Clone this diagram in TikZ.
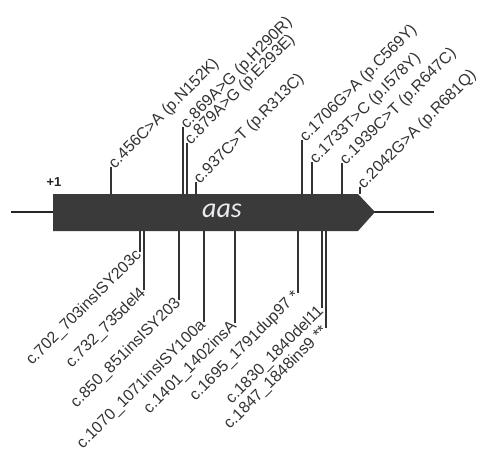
\documentclass[tikz,border=0pt]{standalone}
\usepackage{fontspec}
\setmainfont{Liberation Sans}
\newfontfamily\carl{Carlito}
\begin{document}
\begin{tikzpicture}[x=1pt,y=-1pt,
  stem/.style={draw=black!80,line width=1.4pt},
  toplab/.style={rotate=45,anchor=west,inner sep=1pt,text=black!80,font=\fontsize{16}{16}\selectfont},
  botlab/.style={rotate=45,anchor=east,inner sep=1pt,text=black!80,font=\fontsize{16}{16}\selectfont}]
\useasboundingbox (0,0) rectangle (477,453);
% axis line
\coordinate (L) at (11,212);
\coordinate (R) at (434,212);
\draw[line width=1.4pt,black!85] (L) -- (R);
% gene
\fill[fill={rgb,255:red,58;green,58;blue,58}] (53,194) -- (358,194) -- (375,212) -- (358,231) -- (53,231) -- cycle;
\node[text={rgb,255:red,235;green,235;blue,240},font=\carl\itshape\fontsize{28}{28}\selectfont] (gene) at (222,211) {aas};
\node[font=\fontsize{13}{13}\selectfont\bfseries,text=black!85] (plus) at (54,182) {+1};
% top stems
\foreach \n/\x/\y/\t in {
  456/111/167/{c.456C>A (p.N152K)},
  869/183/127/{c.869A>G (p.H290R)},
  879/187/143/{c.879A>G (p.E293E)},
  937/196/182/{c.937C>T (p.R313C)},
  1706/302/140/{c.1706G>A (p.C569Y)},
  1733/312/162/{c.1733T>C (p.I578Y)},
  1939/342/163/{c.1939C>T (p.R647C)},
  2042/360/187/{c.2042G>A (p.R681Q)}}{
  \coordinate (g\n) at (\x,194);
  \node[toplab] (l\n) at (\x,\y) {\t};
  \draw[stem] (g\n) -- (l\n.west);
}
% bottom stems
\foreach \n/\x/\y/\t in {
  702/140/252/{c.702\_703insISY203c},
  732/144/290/{c.732\_735del4},
  850/179/300/{c.850\_851insISY203},
  1070/204/322/{c.1070\_1071insISY100a},
  1401/235/323/{c.1401\_1402insA},
  1695/298/293/{c.1695\_1791dup97 *},
  1830/322/308/{c.1830\_1840del11},
  1847/326/328/{c.1847\_1848ins9 **}}{
  \coordinate (h\n) at (\x,231);
  \node[botlab] (m\n) at (\x,\y) {\t};
  \draw[stem] (h\n) -- (m\n.east);
}
\end{tikzpicture}
\end{document}
